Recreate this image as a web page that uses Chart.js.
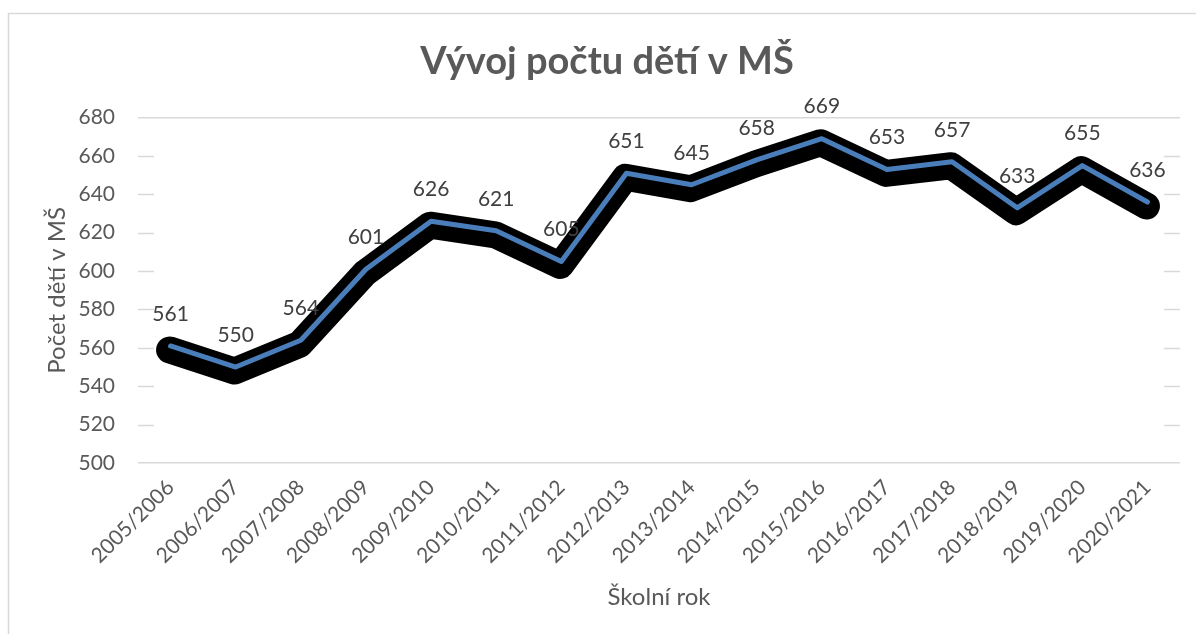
<!DOCTYPE html>
<html>
<head>
<meta charset="utf-8">
<script src="https://cdn.jsdelivr.net/npm/chart.js@4"></script>
<style>
  body { margin: 0; background: #fff; }
  #box { position: absolute; left: 0; top: 0; width: 1196px; height: 634px; }
</style>
</head>
<body>
<div id="box"><canvas id="chart"></canvas></div>
<script>
const skolniRoky = ['2005/2006', '2006/2007', '2007/2008', '2008/2009', '2009/2010', '2010/2011',
  '2011/2012', '2012/2013', '2013/2014', '2014/2015', '2015/2016', '2016/2017',
  '2017/2018', '2018/2019', '2019/2020', '2020/2021'];
const pocetDeti = [561, 550, 564, 601, 626, 621, 605, 651, 645, 658, 669, 653, 657, 633, 655, 636];
const osaY = { min: 500, max: 680, krok: 20 };

Chart.defaults.font.family = 'Lato, "Noto Sans", sans-serif';
Chart.defaults.color = '#595959';

// ramecek kolem grafu
const ramecek = {
  id: 'ramecek',
  beforeDraw(chart) {
    const c = chart.ctx;
    c.save();
    c.strokeStyle = '#d9d9d9';
    c.lineWidth = 1.5;
    c.strokeRect(8.5, 13.5, 1300, 700);
    c.restore();
  }
};

// kratke useky mrizky na okrajich (jako v Excelu)
const pahyly = {
  id: 'pahyly',
  beforeDatasetsDraw(chart) {
    const c = chart.ctx, y = chart.scales.y, a = chart.chartArea;
    c.save();
    c.strokeStyle = '#d9d9d9';
    c.lineWidth = 1.5;
    y.ticks.forEach(t => {
      if (t.value === osaY.min || t.value === osaY.max) return;
      const py = Math.round(y.getPixelForValue(t.value)) + 0.5;
      c.beginPath();
      c.moveTo(a.left, py); c.lineTo(a.left + 16, py);
      c.moveTo(a.right - 16, py); c.lineTo(a.right, py);
      c.stroke();
    });
    c.restore();
  }
};

// posunuty cerny stin pod carou
const stin = {
  id: 'stin',
  beforeDatasetDraw(chart, args) {
    if (args.index !== 1) return;
    chart.ctx.save();
    chart.ctx.translate(-1, 4);
  },
  afterDatasetDraw(chart, args) {
    if (args.index !== 1) return;
    chart.ctx.restore();
  }
};

// popisky hodnot nad body
const popisky = {
  id: 'popisky',
  afterDatasetsDraw(chart) {
    const c = chart.ctx;
    const meta = chart.getDatasetMeta(0);
    c.save();
    c.font = '21px Lato, "Noto Sans", sans-serif';
    c.fillStyle = '#404040';
    c.textAlign = 'center';
    c.textBaseline = 'middle';
    meta.data.forEach((p, i) => {
      c.fillText(String(pocetDeti[i]), p.x, p.y - 32);
    });
    c.restore();
  }
};

new Chart(document.getElementById('chart'), {
  type: 'line',
  data: {
    labels: skolniRoky,
    datasets: [
      {
        label: 'Počet dětí',
        data: pocetDeti,
        borderColor: '#4a7ebb',
        borderWidth: 5,
        borderJoinStyle: 'round',
        borderCapStyle: 'round',
        pointRadius: 0,
        tension: 0,
        order: 0,
        clip: false
      },
      {
        label: 'stin',
        data: pocetDeti,
        borderColor: '#000000',
        borderWidth: 27,
        borderJoinStyle: 'round',
        borderCapStyle: 'round',
        pointRadius: 0,
        tension: 0,
        order: 1,
        clip: false
      }
    ]
  },
  options: {
    responsive: true,
    maintainAspectRatio: false,
    animation: false,
    layout: { padding: { left: 34, right: 16, top: 0, bottom: 0 } },
    plugins: {
      legend: { display: false },
      tooltip: { enabled: false },
      title: {
        display: true,
        text: 'Vývoj počtu dětí v MŠ',
        color: '#595959',
        font: { size: 38, weight: 'bold' },
        padding: { top: 39, bottom: 33 }
      }
    },
    scales: {
      x: {
        offset: true,
        grid: { display: false, drawTicks: false },
        border: { display: false },
        ticks: { minRotation: 45, maxRotation: 45, padding: 12, font: { size: 21 }, color: '#595959' },
        title: { display: true, text: 'Školní rok', font: { size: 24 }, color: '#595959', padding: { bottom: 22 } },
        afterFit(s) { s.height = 171; }
      },
      y: {
        min: osaY.min,
        max: osaY.max,
        grid: {
          drawTicks: false,
          lineWidth: 1.5,
          color: ctx => (ctx.tick && (ctx.tick.value === osaY.min || ctx.tick.value === osaY.max)) ? '#d9d9d9' : 'rgba(0,0,0,0)'
        },
        border: { display: false },
        ticks: { stepSize: osaY.krok, padding: 23, font: { size: 21 }, color: '#595959' },
        title: { display: true, text: 'Počet dětí v MŠ', font: { size: 24 }, color: '#595959', padding: { top: 9 } },
        afterFit(s) { s.width = 104; }
      }
    }
  },
  plugins: [ramecek, pahyly, stin, popisky]
});
</script>
</body>
</html>
